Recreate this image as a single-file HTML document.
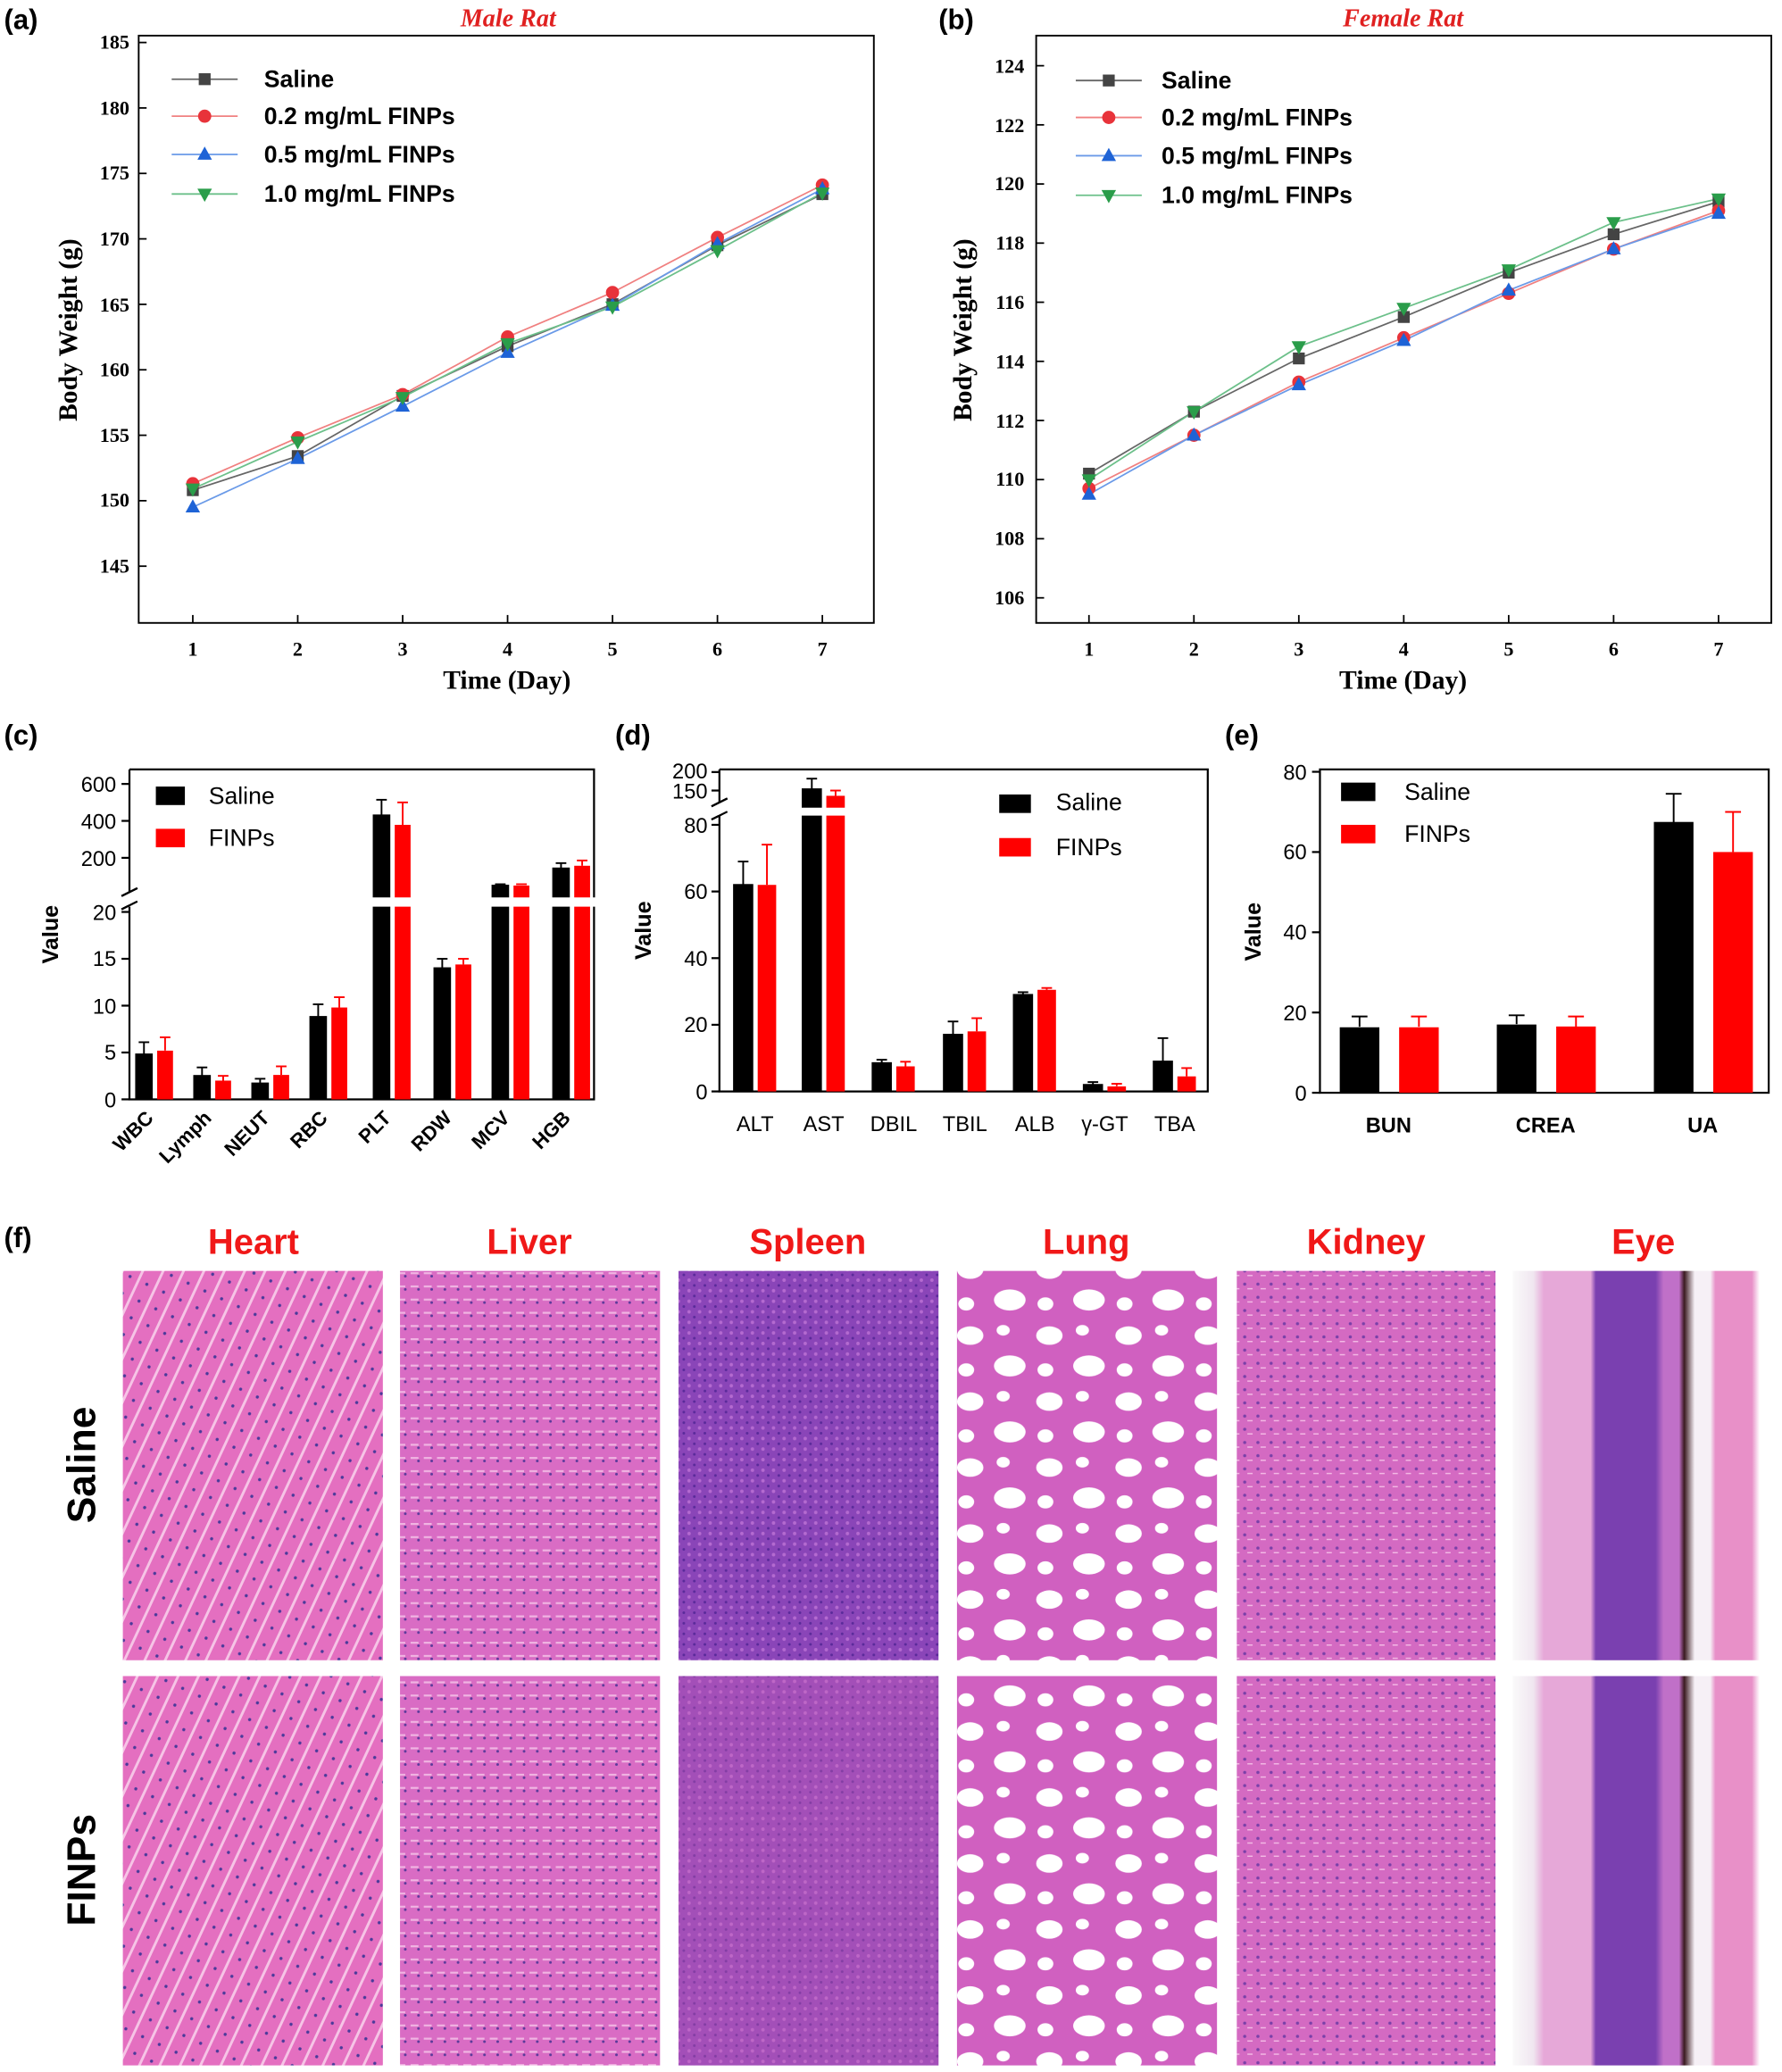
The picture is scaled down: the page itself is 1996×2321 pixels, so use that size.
<!DOCTYPE html>
<html><head><meta charset="utf-8"><style>
html,body{margin:0;padding:0;background:#fff;}
svg{display:block;}
.ser{font-family:"Liberation Serif",serif;}
.san{font-family:"Liberation Sans",sans-serif;}
</style></head><body>
<svg width="1996" height="2321" viewBox="0 0 1350 1570" xmlns="http://www.w3.org/2000/svg">
<defs>
<symbol id="sq" viewBox="-6 -6 12 12" overflow="visible"><rect x="-4.5" y="-4.5" width="9" height="9" fill="#444"/></symbol>
<symbol id="ci" viewBox="-6 -6 12 12" overflow="visible"><circle r="5" fill="#e8333a"/></symbol>
<symbol id="tu" viewBox="-6 -6 12 12" overflow="visible"><polygon points="0,-6 5.5,4 -5.5,4" fill="#1e63d6"/></symbol>
<symbol id="td" viewBox="-6 -6 12 12" overflow="visible"><polygon points="0,6 5.5,-4 -5.5,-4" fill="#2a9d4a"/></symbol>
<pattern id="pHeart" width="14" height="14" patternUnits="userSpaceOnUse" patternTransform="rotate(-65)"><rect width="14" height="14" fill="#e46fc0"/><rect y="0" width="14" height="2" fill="#f6c4e6"/><circle cx="5" cy="8" r="1.2" fill="#4a3a9a"/></pattern>
<pattern id="pLiver" width="10" height="10" patternUnits="userSpaceOnUse"><rect width="10" height="10" fill="#d96cc4"/><rect x="1" y="4" width="6" height="1.5" fill="#f0b4e2"/><circle cx="7" cy="7" r="1" fill="#5a3a9a"/></pattern>
<pattern id="pSpleen" width="8" height="8" patternUnits="userSpaceOnUse"><rect width="8" height="8" fill="#8a45b8"/><circle cx="2" cy="2" r="1.3" fill="#b46ad0"/><circle cx="6" cy="6" r="1" fill="#5a2a9a"/></pattern>
<pattern id="pLung" width="60" height="50" patternUnits="userSpaceOnUse"><rect width="60" height="50" fill="#d060c0"/><ellipse cx="15" cy="12" rx="10" ry="7" fill="#fff"/><ellipse cx="45" cy="35" rx="12" ry="8" fill="#fff"/><ellipse cx="40" cy="8" rx="5" ry="4" fill="#fff"/><ellipse cx="12" cy="38" rx="6" ry="5" fill="#fff"/></pattern>
<pattern id="pKidney" width="10" height="10" patternUnits="userSpaceOnUse"><rect width="10" height="10" fill="#d46ac2"/><circle cx="3" cy="3" r="1.2" fill="#7a40a8"/><rect x="5" y="6" width="4" height="1" fill="#f2b8e4"/></pattern>
<linearGradient id="gEye" x1="0" x2="1" y1="0" y2="0">
<stop offset="0" stop-color="#fafafa"/><stop offset="0.08" stop-color="#f0e6f0"/><stop offset="0.12" stop-color="#e6a8d8"/><stop offset="0.3" stop-color="#e6a8d8"/><stop offset="0.32" stop-color="#7a40b0"/><stop offset="0.55" stop-color="#7a40b0"/><stop offset="0.58" stop-color="#c070c8"/><stop offset="0.64" stop-color="#c070c8"/><stop offset="0.66" stop-color="#3a1a20"/><stop offset="0.70" stop-color="#f6f0f6"/><stop offset="0.76" stop-color="#f6f0f6"/><stop offset="0.78" stop-color="#e890c8"/><stop offset="0.92" stop-color="#e890c8"/><stop offset="0.95" stop-color="#fff"/><stop offset="1" stop-color="#fff"/></linearGradient>
</defs>

<!-- Panel labels -->
<g class="san" font-weight="bold" font-size="21">
<text x="3" y="22">(a)</text><text x="711" y="22">(b)</text>
<text x="3" y="564">(c)</text><text x="466" y="564">(d)</text><text x="928" y="564">(e)</text>
<text x="3" y="945">(f)</text>
</g>

<!-- (a) -->
<text x="385" y="20" class="ser" font-style="italic" font-weight="bold" font-size="19" fill="#e02020" text-anchor="middle">Male Rat</text>
<rect x="105" y="27" width="557" height="445" fill="none" stroke="#000" stroke-width="1.3"/>
<g stroke="#000" stroke-width="1.2">
<line x1="105" y1="429" x2="111" y2="429"/><line x1="105" y1="379.4" x2="111" y2="379.4"/><line x1="105" y1="329.8" x2="111" y2="329.8"/><line x1="105" y1="280.2" x2="111" y2="280.2"/><line x1="105" y1="230.6" x2="111" y2="230.6"/><line x1="105" y1="181" x2="111" y2="181"/><line x1="105" y1="131.4" x2="111" y2="131.4"/><line x1="105" y1="81.8" x2="111" y2="81.8"/><line x1="105" y1="32.2" x2="111" y2="32.2"/>
<line x1="146" y1="472" x2="146" y2="466"/><line x1="225.5" y1="472" x2="225.5" y2="466"/><line x1="305" y1="472" x2="305" y2="466"/><line x1="384.5" y1="472" x2="384.5" y2="466"/><line x1="464" y1="472" x2="464" y2="466"/><line x1="543.5" y1="472" x2="543.5" y2="466"/><line x1="623" y1="472" x2="623" y2="466"/>
</g>
<g class="ser" font-size="15" font-weight="bold" text-anchor="end">
<text x="98" y="434">145</text><text x="98" y="384">150</text><text x="98" y="335">155</text><text x="98" y="285">160</text><text x="98" y="236">165</text><text x="98" y="186">170</text><text x="98" y="136">175</text><text x="98" y="87">180</text><text x="98" y="37">185</text>
</g>
<g class="ser" font-size="15" font-weight="bold" text-anchor="middle">
<text x="146" y="497">1</text><text x="225.5" y="497">2</text><text x="305" y="497">3</text><text x="384.5" y="497">4</text><text x="464" y="497">5</text><text x="543.5" y="497">6</text><text x="623" y="497">7</text>
</g>
<text x="384" y="522" class="ser" font-size="20" font-weight="bold" text-anchor="middle">Time (Day)</text>
<text transform="translate(58,250) rotate(-90)" class="ser" font-size="20" font-weight="bold" text-anchor="middle">Body Weight (g)</text>
<g fill="none" stroke-width="1.2">
<polyline stroke="#666" points="146,371.4 225.5,345.6 305,300 384.5,262.3 464,230.5 543.5,185.8 623,147.1"/>
<polyline stroke="#f08080" points="146,366.5 225.5,331.7 305,299 384.5,255.3 464,221.6 543.5,179.9 623,140.2"/>
<polyline stroke="#6a9ae8" points="146,384.3 225.5,347.6 305,307.9 384.5,267.2 464,231.5 543.5,184.8 623,143.2"/>
<polyline stroke="#6cc08a" points="146,370.4 225.5,334.7 305,301 384.5,260.3 464,232.5 543.5,189.8 623,146.1"/>
</g>
<g>
<use href="#sq" x="140" y="365.4" width="12" height="12"/><use href="#sq" x="219.5" y="339.6" width="12" height="12"/><use href="#sq" x="299" y="294" width="12" height="12"/><use href="#sq" x="378.5" y="256.3" width="12" height="12"/><use href="#sq" x="458" y="224.5" width="12" height="12"/><use href="#sq" x="537.5" y="179.8" width="12" height="12"/><use href="#sq" x="617" y="141.1" width="12" height="12"/>
<use href="#ci" x="140" y="360.5" width="12" height="12"/><use href="#ci" x="219.5" y="325.7" width="12" height="12"/><use href="#ci" x="299" y="293" width="12" height="12"/><use href="#ci" x="378.5" y="249.3" width="12" height="12"/><use href="#ci" x="458" y="215.6" width="12" height="12"/><use href="#ci" x="537.5" y="173.9" width="12" height="12"/><use href="#ci" x="617" y="134.2" width="12" height="12"/>
<use href="#tu" x="140" y="378.3" width="12" height="12"/><use href="#tu" x="219.5" y="341.6" width="12" height="12"/><use href="#tu" x="299" y="301.9" width="12" height="12"/><use href="#tu" x="378.5" y="261.2" width="12" height="12"/><use href="#tu" x="458" y="225.5" width="12" height="12"/><use href="#tu" x="537.5" y="178.8" width="12" height="12"/><use href="#tu" x="617" y="137.2" width="12" height="12"/>
<use href="#td" x="140" y="364.4" width="12" height="12"/><use href="#td" x="219.5" y="328.7" width="12" height="12"/><use href="#td" x="299" y="295" width="12" height="12"/><use href="#td" x="378.5" y="254.3" width="12" height="12"/><use href="#td" x="458" y="226.5" width="12" height="12"/><use href="#td" x="537.5" y="183.8" width="12" height="12"/><use href="#td" x="617" y="140.1" width="12" height="12"/>
</g>
<g stroke-width="1.2">
<line x1="130" y1="60" x2="180" y2="60" stroke="#666"/><use href="#sq" x="149" y="54" width="12" height="12"/>
<line x1="130" y1="88" x2="180" y2="88" stroke="#f08080"/><use href="#ci" x="149" y="82" width="12" height="12"/>
<line x1="130" y1="117" x2="180" y2="117" stroke="#6a9ae8"/><use href="#tu" x="149" y="111" width="12" height="12"/>
<line x1="130" y1="147" x2="180" y2="147" stroke="#6cc08a"/><use href="#td" x="149" y="141" width="12" height="12"/>
</g>
<g class="san" font-size="18" font-weight="bold">
<text x="200" y="66">Saline</text><text x="200" y="94">0.2 mg/mL FINPs</text><text x="200" y="123">0.5 mg/mL FINPs</text><text x="200" y="153">1.0 mg/mL FINPs</text>
</g>

<!-- (b) -->
<text x="1063" y="20" class="ser" font-style="italic" font-weight="bold" font-size="19" fill="#e02020" text-anchor="middle">Female Rat</text>
<rect x="785" y="27" width="557" height="445" fill="none" stroke="#000" stroke-width="1.3"/>
<g stroke="#000" stroke-width="1.2">
<line x1="785" y1="453" x2="791" y2="453"/><line x1="785" y1="408.2" x2="791" y2="408.2"/><line x1="785" y1="363.4" x2="791" y2="363.4"/><line x1="785" y1="318.6" x2="791" y2="318.6"/><line x1="785" y1="273.8" x2="791" y2="273.8"/><line x1="785" y1="229" x2="791" y2="229"/><line x1="785" y1="184.2" x2="791" y2="184.2"/><line x1="785" y1="139.4" x2="791" y2="139.4"/><line x1="785" y1="94.6" x2="791" y2="94.6"/><line x1="785" y1="49.8" x2="791" y2="49.8"/>
<line x1="825" y1="472" x2="825" y2="466"/><line x1="904.5" y1="472" x2="904.5" y2="466"/><line x1="984" y1="472" x2="984" y2="466"/><line x1="1063.5" y1="472" x2="1063.5" y2="466"/><line x1="1143" y1="472" x2="1143" y2="466"/><line x1="1222.5" y1="472" x2="1222.5" y2="466"/><line x1="1302" y1="472" x2="1302" y2="466"/>
</g>
<g class="ser" font-size="15" font-weight="bold" text-anchor="end">
<text x="776" y="458">106</text><text x="776" y="413">108</text><text x="776" y="368">110</text><text x="776" y="324">112</text><text x="776" y="279">114</text><text x="776" y="234">116</text><text x="776" y="189">118</text><text x="776" y="144">120</text><text x="776" y="100">122</text><text x="776" y="55">124</text>
</g>
<g class="ser" font-size="15" font-weight="bold" text-anchor="middle">
<text x="825" y="497">1</text><text x="904.5" y="497">2</text><text x="984" y="497">3</text><text x="1063.5" y="497">4</text><text x="1143" y="497">5</text><text x="1222.5" y="497">6</text><text x="1302" y="497">7</text>
</g>
<text x="1063" y="522" class="ser" font-size="20" font-weight="bold" text-anchor="middle">Time (Day)</text>
<text transform="translate(736,250) rotate(-90)" class="ser" font-size="20" font-weight="bold" text-anchor="middle">Body Weight (g)</text>
<g fill="none" stroke-width="1.2">
<polyline stroke="#666" points="825,358.9 904.5,311.9 984,271.6 1063.5,240.2 1143,206.6 1222.5,177.5 1302,152.8"/>
<polyline stroke="#f08080" points="825,370.1 904.5,329.8 984,289.5 1063.5,255.9 1143,222.3 1222.5,188.7 1302,159.6"/>
<polyline stroke="#6a9ae8" points="825,374.6 904.5,329.8 984,291.7 1063.5,258.1 1143,220 1222.5,188.7 1302,161.8"/>
<polyline stroke="#6cc08a" points="825,363.4 904.5,311.9 984,262.6 1063.5,233.5 1143,204.3 1222.5,168.5 1302,150.6"/>
</g>
<g>
<use href="#sq" x="819" y="352.9" width="12" height="12"/><use href="#sq" x="898.5" y="305.9" width="12" height="12"/><use href="#sq" x="978" y="265.6" width="12" height="12"/><use href="#sq" x="1057.5" y="234.2" width="12" height="12"/><use href="#sq" x="1137" y="200.6" width="12" height="12"/><use href="#sq" x="1216.5" y="171.5" width="12" height="12"/><use href="#sq" x="1296" y="146.8" width="12" height="12"/>
<use href="#ci" x="819" y="364.1" width="12" height="12"/><use href="#ci" x="898.5" y="323.8" width="12" height="12"/><use href="#ci" x="978" y="283.5" width="12" height="12"/><use href="#ci" x="1057.5" y="249.9" width="12" height="12"/><use href="#ci" x="1137" y="216.3" width="12" height="12"/><use href="#ci" x="1216.5" y="182.7" width="12" height="12"/><use href="#ci" x="1296" y="153.6" width="12" height="12"/>
<use href="#tu" x="819" y="368.6" width="12" height="12"/><use href="#tu" x="898.5" y="323.8" width="12" height="12"/><use href="#tu" x="978" y="285.7" width="12" height="12"/><use href="#tu" x="1057.5" y="252.1" width="12" height="12"/><use href="#tu" x="1137" y="214" width="12" height="12"/><use href="#tu" x="1216.5" y="182.7" width="12" height="12"/><use href="#tu" x="1296" y="155.8" width="12" height="12"/>
<use href="#td" x="819" y="357.4" width="12" height="12"/><use href="#td" x="898.5" y="305.9" width="12" height="12"/><use href="#td" x="978" y="256.6" width="12" height="12"/><use href="#td" x="1057.5" y="227.5" width="12" height="12"/><use href="#td" x="1137" y="198.3" width="12" height="12"/><use href="#td" x="1216.5" y="162.5" width="12" height="12"/><use href="#td" x="1296" y="144.6" width="12" height="12"/>
</g>
<g stroke-width="1.2">
<line x1="815" y1="61" x2="865" y2="61" stroke="#666"/><use href="#sq" x="834" y="55" width="12" height="12"/>
<line x1="815" y1="89" x2="865" y2="89" stroke="#f08080"/><use href="#ci" x="834" y="83" width="12" height="12"/>
<line x1="815" y1="118" x2="865" y2="118" stroke="#6a9ae8"/><use href="#tu" x="834" y="112" width="12" height="12"/>
<line x1="815" y1="148" x2="865" y2="148" stroke="#6cc08a"/><use href="#td" x="834" y="142" width="12" height="12"/>
</g>
<g class="san" font-size="18" font-weight="bold">
<text x="880" y="67">Saline</text><text x="880" y="95">0.2 mg/mL FINPs</text><text x="880" y="124">0.5 mg/mL FINPs</text><text x="880" y="154">1.0 mg/mL FINPs</text>
</g>

<!-- (c) -->
<g stroke="#000" stroke-width="1.5" fill="none">
<polyline points="98,583 98,676"/><polyline points="98,686 98,833 450,833 450,583 98,583"/>
<line x1="92" y1="679" x2="104" y2="673"/><line x1="92" y1="689" x2="104" y2="683"/>
<line x1="92" y1="594" x2="98" y2="594"/><line x1="92" y1="622" x2="98" y2="622"/><line x1="92" y1="650" x2="98" y2="650"/>
<line x1="92" y1="691" x2="98" y2="691"/><line x1="92" y1="726.5" x2="98" y2="726.5"/><line x1="92" y1="762" x2="98" y2="762"/><line x1="92" y1="797.5" x2="98" y2="797.5"/><line x1="92" y1="833" x2="98" y2="833"/>
</g>
<g class="san" font-size="16" text-anchor="end">
<text x="88" y="600">600</text><text x="88" y="628">400</text><text x="88" y="656">200</text>
<text x="88" y="697">20</text><text x="88" y="732">15</text><text x="88" y="768">10</text><text x="88" y="803">5</text><text x="88" y="839">0</text>
</g>
<text transform="translate(44,708) rotate(-90)" class="san" font-size="17" font-weight="bold" text-anchor="middle">Value</text>
<g stroke="#000" stroke-width="1.3">
<rect x="103" y="798.9" width="12" height="34.1" fill="#000"/><line x1="109" y1="799" x2="109" y2="789.7"/><line x1="105" y1="789.7" x2="113" y2="789.7"/>
<rect x="119" y="796.1" width="12" height="36.9" fill="#f00" stroke="none"/><line x1="125" y1="796" x2="125" y2="786" stroke="#f00"/><line x1="121" y1="786" x2="129" y2="786" stroke="#f00"/>
<rect x="147" y="815.2" width="12" height="17.8" fill="#000"/><line x1="153" y1="815" x2="153" y2="808.8"/><line x1="149" y1="808.8" x2="157" y2="808.8"/>
<rect x="163" y="818.8" width="12" height="14.2" fill="#f00" stroke="none"/><line x1="169" y1="819" x2="169" y2="815.2" stroke="#f00"/><line x1="165" y1="815.2" x2="173" y2="815.2" stroke="#f00"/>
<rect x="191" y="820.9" width="12" height="12.1" fill="#000"/><line x1="197" y1="821" x2="197" y2="817.4"/><line x1="193" y1="817.4" x2="201" y2="817.4"/>
<rect x="207" y="814.5" width="12" height="18.5" fill="#f00" stroke="none"/><line x1="213" y1="814.5" x2="213" y2="808" stroke="#f00"/><line x1="209" y1="808" x2="217" y2="808" stroke="#f00"/>
<rect x="235" y="770.5" width="12" height="62.5" fill="#000"/><line x1="241" y1="770.5" x2="241" y2="761"/><line x1="237" y1="761" x2="245" y2="761"/>
<rect x="251" y="763.4" width="12" height="69.6" fill="#f00" stroke="none"/><line x1="257" y1="763.4" x2="257" y2="755.6" stroke="#f00"/><line x1="253" y1="755.6" x2="261" y2="755.6" stroke="#f00"/>
<rect x="283" y="617.8" width="12" height="215.2" fill="#000"/><line x1="289" y1="618" x2="289" y2="606"/><line x1="285" y1="606" x2="293" y2="606"/>
<rect x="299" y="625" width="12" height="208" fill="#f00" stroke="none"/><line x1="305" y1="625" x2="305" y2="608" stroke="#f00"/><line x1="301" y1="608" x2="309" y2="608" stroke="#f00"/>
<rect x="329" y="733.6" width="12" height="99.4" fill="#000"/><line x1="335" y1="733.6" x2="335" y2="726.5"/><line x1="331" y1="726.5" x2="339" y2="726.5"/>
<rect x="345" y="730.8" width="12" height="102.2" fill="#f00" stroke="none"/><line x1="351" y1="730.8" x2="351" y2="726.5" stroke="#f00"/><line x1="347" y1="726.5" x2="355" y2="726.5" stroke="#f00"/>
<rect x="373" y="671" width="12" height="162" fill="#000"/><line x1="375" y1="670" x2="383" y2="670"/>
<rect x="389" y="671" width="12" height="162" fill="#f00" stroke="none"/><line x1="391" y1="670" x2="399" y2="670" stroke="#f00"/>
<rect x="419" y="658" width="12" height="175" fill="#000"/><line x1="425" y1="658" x2="425" y2="654"/><line x1="421" y1="654" x2="429" y2="654"/>
<rect x="435" y="656" width="12" height="177" fill="#f00" stroke="none"/><line x1="441" y1="656" x2="441" y2="652" stroke="#f00"/><line x1="437" y1="652" x2="445" y2="652" stroke="#f00"/>
</g>
<rect x="97" y="680" width="360" height="7" fill="#fff"/>
<line x1="92" y1="679" x2="104" y2="673" stroke="#000" stroke-width="1.5"/><line x1="92" y1="689" x2="104" y2="683" stroke="#000" stroke-width="1.5"/>
<rect x="118" y="596" width="22" height="14" fill="#000"/><rect x="118" y="628" width="22" height="14" fill="#f00"/>
<g class="san" font-size="18"><text x="158" y="609">Saline</text><text x="158" y="641">FINPs</text></g>
<g class="san" font-size="15" font-weight="bold" text-anchor="end">
<text transform="translate(117,848) rotate(-45)">WBC</text><text transform="translate(161,848) rotate(-45)">Lymph</text><text transform="translate(205,848) rotate(-45)">NEUT</text><text transform="translate(249,848) rotate(-45)">RBC</text><text transform="translate(297,848) rotate(-45)">PLT</text><text transform="translate(343,848) rotate(-45)">RDW</text><text transform="translate(387,848) rotate(-45)">MCV</text><text transform="translate(433,848) rotate(-45)">HGB</text>
</g>

<!-- (d) -->
<g stroke="#000" stroke-width="1.5" fill="none">
<polyline points="545,583 545,608"/><polyline points="545,618 545,827 915,827 915,583 545,583"/>
<line x1="539" y1="611" x2="551" y2="605"/><line x1="539" y1="621" x2="551" y2="615"/>
<line x1="539" y1="585" x2="545" y2="585"/><line x1="539" y1="599" x2="545" y2="599"/>
<line x1="539" y1="625" x2="545" y2="625"/><line x1="539" y1="675.5" x2="545" y2="675.5"/><line x1="539" y1="726" x2="545" y2="726"/><line x1="539" y1="776.5" x2="545" y2="776.5"/><line x1="539" y1="827" x2="545" y2="827"/>
</g>
<g class="san" font-size="16" text-anchor="end">
<text x="536" y="590">200</text><text x="536" y="605">150</text>
<text x="536" y="631">80</text><text x="536" y="681">60</text><text x="536" y="732">40</text><text x="536" y="782">20</text><text x="536" y="833">0</text>
</g>
<text transform="translate(493,705) rotate(-90)" class="san" font-size="17" font-weight="bold" text-anchor="middle">Value</text>
<g stroke="#000" stroke-width="1.3">
<rect x="556" y="670.5" width="14" height="156.5" fill="#000"/><line x1="563" y1="670.5" x2="563" y2="652.8"/><line x1="559" y1="652.8" x2="567" y2="652.8"/>
<rect x="574" y="670.5" width="14" height="156.5" fill="#f00" stroke="none"/><line x1="581" y1="670.5" x2="581" y2="640" stroke="#f00"/><line x1="577" y1="640" x2="585" y2="640" stroke="#f00"/>
<rect x="608" y="598" width="14" height="229" fill="#000"/><line x1="615" y1="598" x2="615" y2="590"/><line x1="611" y1="590" x2="619" y2="590"/>
<rect x="626" y="603" width="14" height="224" fill="#f00" stroke="none"/><line x1="633" y1="603" x2="633" y2="599" stroke="#f00"/><line x1="629" y1="599" x2="637" y2="599" stroke="#f00"/>
<rect x="661" y="805.5" width="14" height="21.5" fill="#000"/><line x1="668" y1="805.5" x2="668" y2="803"/><line x1="664" y1="803" x2="672" y2="803"/>
<rect x="679" y="808" width="14" height="19" fill="#f00" stroke="none"/><line x1="686" y1="808" x2="686" y2="804.5" stroke="#f00"/><line x1="682" y1="804.5" x2="690" y2="804.5" stroke="#f00"/>
<rect x="715" y="784" width="14" height="43" fill="#000"/><line x1="722" y1="784" x2="722" y2="774"/><line x1="718" y1="774" x2="726" y2="774"/>
<rect x="733" y="781.5" width="14" height="45.5" fill="#f00" stroke="none"/><line x1="740" y1="781.5" x2="740" y2="771.5" stroke="#f00"/><line x1="736" y1="771.5" x2="744" y2="771.5" stroke="#f00"/>
<rect x="768" y="753.8" width="14" height="73.2" fill="#000"/><line x1="775" y1="753.8" x2="775" y2="751.8"/><line x1="771" y1="751.8" x2="779" y2="751.8"/>
<rect x="786" y="750" width="14" height="77" fill="#f00" stroke="none"/><line x1="793" y1="750" x2="793" y2="748.6" stroke="#f00"/><line x1="789" y1="748.6" x2="797" y2="748.6" stroke="#f00"/>
<rect x="821" y="822" width="14" height="5" fill="#000"/><line x1="828" y1="822" x2="828" y2="819.9"/><line x1="824" y1="819.9" x2="832" y2="819.9"/>
<rect x="839" y="823.2" width="14" height="3.8" fill="#f00" stroke="none"/><line x1="846" y1="823" x2="846" y2="821.2" stroke="#f00"/><line x1="842" y1="821.2" x2="850" y2="821.2" stroke="#f00"/>
<rect x="874" y="804.3" width="14" height="22.7" fill="#000"/><line x1="881" y1="804.3" x2="881" y2="786.6"/><line x1="877" y1="786.6" x2="885" y2="786.6"/>
<rect x="892" y="815.6" width="14" height="11.4" fill="#f00" stroke="none"/><line x1="899" y1="815.6" x2="899" y2="809.3" stroke="#f00"/><line x1="895" y1="809.3" x2="903" y2="809.3" stroke="#f00"/>
</g>
<rect x="544" y="612" width="100" height="6" fill="#fff"/>
<line x1="539" y1="611" x2="551" y2="605" stroke="#000" stroke-width="1.5"/><line x1="539" y1="621" x2="551" y2="615" stroke="#000" stroke-width="1.5"/>
<rect x="757" y="602" width="24" height="14" fill="#000"/><rect x="757" y="635" width="24" height="14" fill="#f00"/>
<g class="san" font-size="18"><text x="800" y="614">Saline</text><text x="800" y="648">FINPs</text></g>
<g class="san" font-size="16" text-anchor="middle">
<text x="572" y="857">ALT</text><text x="624" y="857">AST</text><text x="677" y="857">DBIL</text><text x="731" y="857">TBIL</text><text x="784" y="857">ALB</text><text x="837" y="857">γ-GT</text><text x="890" y="857">TBA</text>
</g>

<!-- (e) -->
<rect x="1000" y="583" width="340" height="245" fill="none" stroke="#000" stroke-width="1.5"/>
<g stroke="#000" stroke-width="1.5">
<line x1="994" y1="584.8" x2="1000" y2="584.8"/><line x1="994" y1="645.6" x2="1000" y2="645.6"/><line x1="994" y1="706.4" x2="1000" y2="706.4"/><line x1="994" y1="767.2" x2="1000" y2="767.2"/><line x1="994" y1="828" x2="1000" y2="828"/>
</g>
<g class="san" font-size="16" text-anchor="end">
<text x="990" y="591">80</text><text x="990" y="651">60</text><text x="990" y="712">40</text><text x="990" y="773">20</text><text x="990" y="834">0</text>
</g>
<text transform="translate(955,706) rotate(-90)" class="san" font-size="17" font-weight="bold" text-anchor="middle">Value</text>
<g stroke-width="1.3">
<rect x="1015" y="778.4" width="30" height="49.6" fill="#000"/><line x1="1030" y1="778" x2="1030" y2="770.2" stroke="#000"/><line x1="1024" y1="770.2" x2="1036" y2="770.2" stroke="#000"/>
<rect x="1060" y="778.4" width="30" height="49.6" fill="#f00"/><line x1="1075" y1="778" x2="1075" y2="770.2" stroke="#f00"/><line x1="1069" y1="770.2" x2="1081" y2="770.2" stroke="#f00"/>
<rect x="1134" y="776.3" width="30" height="51.7" fill="#000"/><line x1="1149" y1="776" x2="1149" y2="769.3" stroke="#000"/><line x1="1143" y1="769.3" x2="1155" y2="769.3" stroke="#000"/>
<rect x="1179" y="777.8" width="30" height="50.2" fill="#f00"/><line x1="1194" y1="778" x2="1194" y2="770.2" stroke="#f00"/><line x1="1188" y1="770.2" x2="1200" y2="770.2" stroke="#f00"/>
<rect x="1253" y="622.8" width="30" height="205.2" fill="#000"/><line x1="1268" y1="623" x2="1268" y2="601.5" stroke="#000"/><line x1="1262" y1="601.5" x2="1274" y2="601.5" stroke="#000"/>
<rect x="1298" y="645.6" width="30" height="182.4" fill="#f00"/><line x1="1313" y1="645.6" x2="1313" y2="615.2" stroke="#f00"/><line x1="1307" y1="615.2" x2="1319" y2="615.2" stroke="#f00"/>
</g>
<rect x="1016" y="593" width="26" height="14" fill="#000"/><rect x="1016" y="625" width="26" height="14" fill="#f00"/>
<g class="san" font-size="18"><text x="1064" y="606">Saline</text><text x="1064" y="638">FINPs</text></g>
<g class="san" font-size="16" font-weight="bold" text-anchor="middle">
<text x="1052" y="858">BUN</text><text x="1171" y="858">CREA</text><text x="1290" y="858">UA</text>
</g>

<!-- (f) -->
<g class="san" font-size="27" font-weight="bold" fill="#f01818" text-anchor="middle">
<text x="192" y="950">Heart</text><text x="401" y="950">Liver</text><text x="612" y="950">Spleen</text><text x="823" y="950">Lung</text><text x="1035" y="950">Kidney</text><text x="1245" y="950">Eye</text>
</g>
<g class="san" font-size="30" font-weight="bold" text-anchor="middle">
<text transform="translate(72,1110) rotate(-90)">Saline</text>
<text transform="translate(72,1417) rotate(-90)">FINPs</text>
</g>
<rect x="93" y="963" width="197" height="295" fill="url(#pHeart)"/>
<rect x="303" y="963" width="197" height="295" fill="url(#pLiver)"/>
<rect x="514" y="963" width="197" height="295" fill="url(#pSpleen)"/>
<rect x="725" y="963" width="197" height="295" fill="url(#pLung)"/>
<rect x="937" y="963" width="196" height="295" fill="url(#pKidney)"/>
<rect x="1146" y="963" width="197" height="295" fill="url(#gEye)"/>
<rect x="93" y="1270" width="197" height="295" fill="url(#pHeart)"/>
<rect x="303" y="1270" width="197" height="295" fill="url(#pLiver)"/>
<rect x="514" y="1270" width="197" height="295" fill="url(#pSpleen)"/>
<rect x="514" y="1270" width="197" height="295" fill="#d060b8" opacity="0.35"/>
<rect x="725" y="1270" width="197" height="295" fill="url(#pLung)"/>
<rect x="937" y="1270" width="196" height="295" fill="url(#pKidney)"/>
<rect x="1146" y="1270" width="197" height="295" fill="url(#gEye)"/>
</svg>
</body></html>
